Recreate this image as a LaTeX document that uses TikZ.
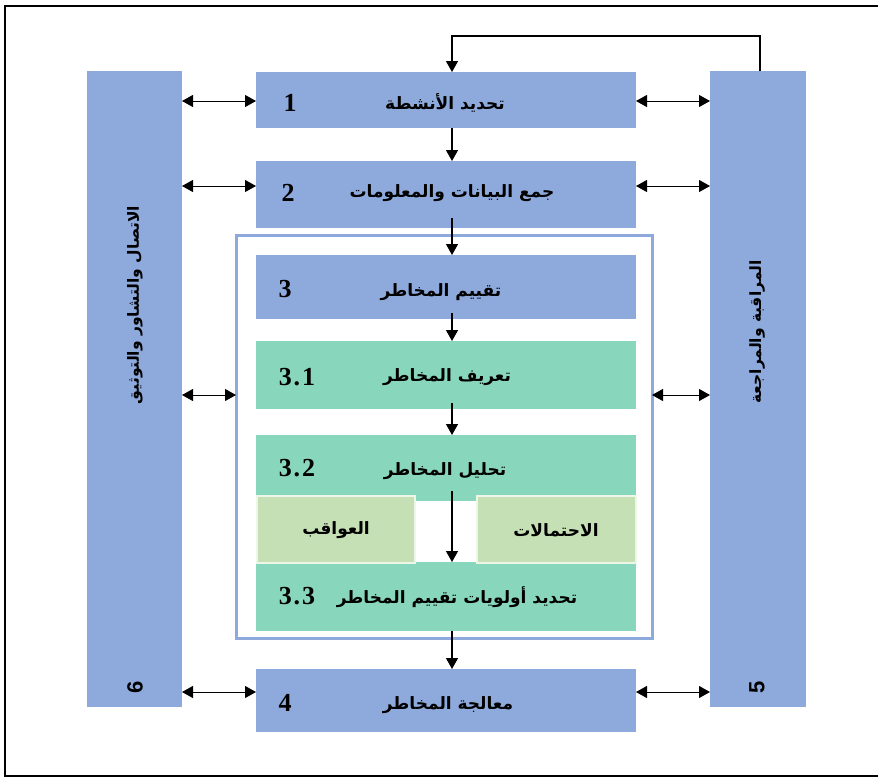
\documentclass[tikz,border=0pt]{standalone}
\usepackage{fontspec}
\setmainfont{Liberation Serif}
\newfontfamily\arabicfont[Script=Arabic]{DejaVu Sans}
\newfontfamily\numsans{Liberation Sans}
\TeXXeTstate=1
\usetikzlibrary{arrows.meta}
\definecolor{boxblue}{RGB}{142,170,220}
\definecolor{boxgreen}{RGB}{136,215,188}
\definecolor{subgreen}{RGB}{197,224,180}
\tikzset{
  base/.style={inner sep=0pt, outer sep=0pt},
  bluebox/.style={base, fill=boxblue},
  greenbox/.style={base, fill=boxgreen},
  subbox/.style={base, fill=subgreen, draw=white!70!subgreen, line width=1.2pt},
  framebox/.style={base, draw=boxblue, line width=3pt},
  ar/.style={base, font=\arabicfont\bfseries\fontsize{17}{19}\selectfont},
  colar/.style={base, rotate=90, font=\arabicfont\bfseries\fontsize{15.5}{17}\selectfont},
  num/.style={base, font=\bfseries\fontsize{26}{28}\selectfont},
  colnum/.style={base, font=\numsans\bfseries\fontsize{22}{24}\selectfont, rotate=90},
  arr/.style={line width=1.3pt, -{Triangle[length=11pt,width=12pt]}},
  dbl/.style={line width=1pt, {Triangle[length=11pt,width=12pt]}-{Triangle[length=11pt,width=12pt]}}
}
\newcommand\dotnum[2]{#1\kern2pt.\kern2pt#2}
\begin{document}
\begin{tikzpicture}[x=1pt,y=-1pt]
\useasboundingbox (0,0) rectangle (878,777);
\begin{scope}
\clip (0,0) rectangle (878,777);
\draw[line width=2pt] (890,6) -- (5,6) -- (5,776) -- (890,776);
\end{scope}
% helper coordinates
\coordinate (ax) at (452,0);
\coordinate (fb) at (760,0);
\coordinate (ft) at (0,36);
\coordinate (r1) at (0,101);
\coordinate (r2) at (0,186);
\coordinate (r3) at (0,395);
\coordinate (r4) at (0,692);
% frame
\node[framebox, minimum width=416pt, minimum height=403pt] (F) at (444,436.5) {};
% side columns
\node[bluebox, minimum width=95pt, minimum height=636pt] (L) at (134.5,389) {};
\node[bluebox, minimum width=96pt, minimum height=636pt] (R) at (758,389) {};
% main boxes
\node[bluebox, minimum width=380pt, minimum height=56pt] (b1) at (446,100) {};
\node[bluebox, minimum width=380pt, minimum height=67pt] (b2) at (446,194.5) {};
\node[bluebox, minimum width=380pt, minimum height=64pt] (b3) at (446,287) {};
\node[greenbox, minimum width=380pt, minimum height=68pt] (c1) at (446,375) {};
\node[greenbox, minimum width=380pt, minimum height=66pt] (c2) at (446,468) {};
\node[greenbox, minimum width=380pt, minimum height=69pt] (c3) at (446,596.5) {};
\node[subbox, minimum width=158pt, minimum height=67pt] (s1) at (336,529.5) {};
\node[subbox, minimum width=159pt, minimum height=67pt] (s2) at (556.5,529.5) {};
\node[bluebox, minimum width=380pt, minimum height=63pt] (b4) at (446,700.5) {};
% texts
\node[ar] (t1) at (445,103) {\beginR تحديد الأنشطة\endR};
\node[num] (n1) at (290,103) {1};
\node[ar] (t2) at (452,193) {\beginR جمع البيانات والمعلومات\endR};
\node[num] (n2) at (288,193) {2};
\node[ar] (t3) at (441,292) {\beginR تقييم المخاطر\endR};
\node[num] (n3) at (285,289) {3};
\node[ar] (t31) at (447,377) {\beginR تعريف المخاطر\endR};
\node[num] (n31) at (297,377) {\dotnum{3}{1}};
\node[ar] (t32) at (445,471) {\beginR تحليل المخاطر\endR};
\node[num] (n32) at (297,468) {\dotnum{3}{2}};
\node[ar] (ts1) at (336,530) {\beginR العواقب\endR};
\node[ar] (ts2) at (556,530) {\beginR الاحتمالات\endR};
\node[ar] (t33) at (457,597) {\beginR تحديد أولويات تقييم المخاطر\endR};
\node[num] (n33) at (297,596) {\dotnum{3}{3}};
\node[ar] (t4) at (448,705) {\beginR معالجة المخاطر\endR};
\node[num] (n4) at (285,703) {4};
\node[colar] (tl) at (135,305) {\beginR الاتصال والتشاور والتوثيق\endR};
\node[colnum] (n6) at (135,687) {6};
\node[colar] (tr) at (757,332) {\beginR المراقبة والمراجعة\endR};
\node[colnum] (n5) at (757,687) {5};
% vertical flow
\draw[arr] (b1.south -| ax) -- (b2.north -| ax);
\draw[arr] ([yshift=10pt]b2.south -| ax) -- (b3.north -| ax);
\draw[arr] ([yshift=6pt]b3.south -| ax) -- (c1.north -| ax);
\draw[arr] ([yshift=6pt]c1.south -| ax) -- (c2.north -| ax);
\draw[arr] ([yshift=10pt]c2.south -| ax) -- (c3.north -| ax);
\draw[arr] (c3.south -| ax) -- (b4.north -| ax);
% feedback loop
\draw[arr] (R.north -| fb) -- (fb |- ft) -- (ax |- ft) -- (b1.north -| ax);
% double arrows
\draw[dbl] (L.east |- r1) -- (b1.west |- r1);
\draw[dbl] (b1.east |- r1) -- (R.west |- r1);
\draw[dbl] (L.east |- r2) -- (b2.west |- r2);
\draw[dbl] (b2.east |- r2) -- (R.west |- r2);
\draw[dbl] (L.east |- r3) -- (F.west |- r3);
\draw[dbl] (F.east |- r3) -- (R.west |- r3);
\draw[dbl] (L.east |- r4) -- (b4.west |- r4);
\draw[dbl] (b4.east |- r4) -- (R.west |- r4);
\end{tikzpicture}
\end{document}
